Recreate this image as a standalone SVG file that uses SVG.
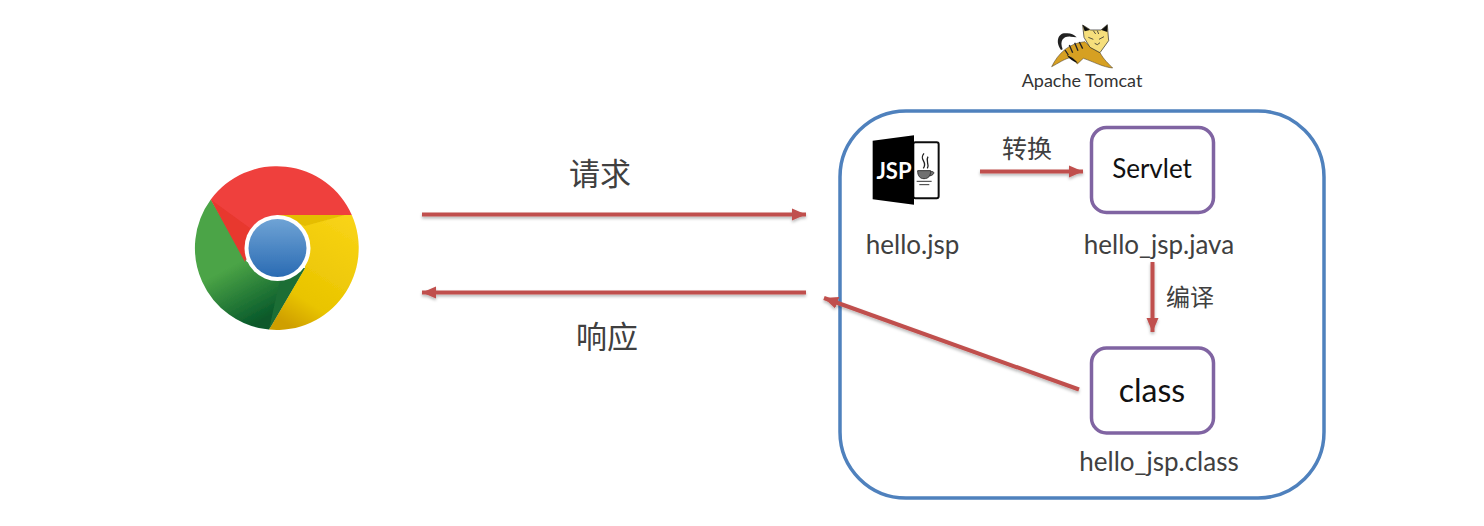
<svg xmlns="http://www.w3.org/2000/svg" width="1484" height="526" viewBox="0 0 1484 526">
<style>
text{font-family:Lato,"Noto Sans CJK SC",sans-serif;text-anchor:middle}
.lab{fill:#404040;font-size:26px}
.cjk{font-family:"Noto Sans CJK SC",sans-serif;fill:#404040}
.box{fill:#fff;stroke:#8064a2;stroke-width:3.5}
.conn{fill:none;stroke:#c0504d;stroke-width:4;marker-end:url(#ah)}
</style>
<defs>
<marker id="ah" markerUnits="userSpaceOnUse" markerWidth="15" markerHeight="15" refX="14" refY="7.500" orient="auto"><path d="M0 1.500L14 7.500L0 13.500Z" fill="#c0504d"/></marker>
<filter id="sh" x="-5%" y="-50%" width="110%" height="200%"><feDropShadow dx="0" dy="2" stdDeviation="1.600" flood-color="#000" flood-opacity=".28"/></filter>
<filter id="soft"><feGaussianBlur stdDeviation=".4"/></filter>
<linearGradient id="g" x1="0" y1="0" x2=".45" y2="1"><stop offset=".55" stop-color="#4ba446"/><stop offset="1" stop-color="#07582a"/></linearGradient>
<linearGradient id="y" x1=".8" y1="0" x2=".3" y2="1"><stop offset="0" stop-color="#f8d315"/><stop offset=".75" stop-color="#e9c400"/><stop offset="1" stop-color="#cf9f05"/></linearGradient>
<linearGradient id="b" x1="0" y1="0" x2="0" y2="1"><stop offset="0" stop-color="#6fa3d5"/><stop offset="1" stop-color="#2a6bb3"/></linearGradient>
</defs>
<rect width="1484" height="526" fill="#fff"/>
<g id="tomcat-container"><rect x="840" y="111" width="484" height="387" rx="66" fill="#fff" stroke="#4f81bd" stroke-width="3.5"/></g>
<g id="chrome" filter="url(#soft)">
<path d="M210.800 199.500A82 82 0 0 1 351.800 215L277 215L245 262Z" fill="#ef413d"/>
<path d="M210.800 199.500A82 82 0 0 0 269 329.600L305 268L247 262Z" fill="url(#g)"/>
<path d="M351.800 215A82 82 0 0 1 269 329.600L305 268L300 225L277 215Z" fill="url(#y)"/>
<path d="M210.800 199.500L245 262L250 228Z" fill="#e8372f"/>
<path d="M277 215H345L305 226Z" fill="#e5bd05"/>
<path d="M269 329.600L305 268L280 280Z" fill="#1f6e36"/>
<circle cx="277.500" cy="248" r="33" fill="#fff"/>
<circle cx="277.500" cy="248" r="29" fill="url(#b)"/>
</g>
<g id="tomcat-logo">
<g transform="translate(1000 10) scale(.3333)" filter="url(#soft)">
<path d="M155 170C175 130 205 100 255 95L272 112L300 128C312 150 325 160 338 174C310 172 280 155 250 145L232 162L215 142C195 145 175 160 155 170Z" fill="#d6a021" stroke="#3a2a10" stroke-width="1.500"/>
<path d="M248 45L272 60H303L322 44L326 92L300 128L270 112L252 82Z" fill="#f6df7c" stroke="#222" stroke-width="2"/>
<path d="M248 45L270 60L254 64ZM322 44L304 60L322 66Z" fill="#111"/>
<path d="M265 82L280 88M297 88L312 80M284 100L292 104L300 98M280 62L287 72M292 62L296 72" fill="none" stroke="#333" stroke-width="2.500"/>
<path d="M208 105L218 128M224 98L234 122M238 96L248 116M195 120L205 135" fill="none" stroke="#222" stroke-width="4"/>
<path d="M200 135Q220 142 234 160Q212 152 200 135Z" fill="#111"/>
<path d="M183 120C165 95 175 70 195 70C210 68 220 72 230 82L212 80C190 78 178 92 188 118Z" fill="#222"/>
</g>
<text x="1082" y="87" style="font-size:18px;fill:#333">Apache Tomcat</text>
</g>
<g id="jsp-node">
<g transform="translate(850 120) scale(.3333)" filter="url(#soft)">
<rect x="190" y="67" width="76" height="168" rx="6" fill="#fff" stroke="#111" stroke-width="6"/>
<path d="M68 62L192 46V254L68 238Z" fill="#000"/>
<path d="M222 100C205 120 235 125 220 145M234 110C225 125 240 130 232 145" fill="none" stroke="#222" stroke-width="4"/>
<path d="M203 152H242C242 168 235 176 222 176C210 176 203 168 203 152ZM242 155C256 152 254 166 238 168M200 184H245M208 194H238" fill="#333" stroke="#333" stroke-width="3" fill-opacity=".7"/>
</g>
<text x="894" y="179" style="font-size:22px;font-weight:700;fill:#fff">JSP</text>
<text class="lab" x="912.500" y="254">hello.jsp</text>
</g>
<g id="servlet-node">
<rect class="box" x="1091.500" y="127.500" width="122" height="85" rx="15"/>
<text x="1152" y="178" style="font-size:26px;fill:#111">Servlet</text>
<text class="lab" x="1159" y="254">hello_jsp.java</text>
</g>
<g id="class-node">
<rect class="box" x="1091.500" y="348" width="122" height="85" rx="15"/>
<text x="1152" y="402" style="font-size:32px;fill:#111">class</text>
<text class="lab" x="1159" y="471">hello_jsp.class</text>
</g>
<g id="connectors" filter="url(#sh)">
<path class="conn" d="M422 214.500H806"/>
<path class="conn" d="M806 292.500H422"/>
<path class="conn" d="M980 171.500H1083"/>
<path class="conn" d="M1152.500 262V332"/>
<path class="conn" d="M1079 389.500L824 298"/>
</g>
<g id="connector-labels">
<text class="cjk" x="600" y="185" style="font-size:31px">请求</text>
<text class="cjk" x="607" y="348" style="font-size:31px">响应</text>
<text class="cjk" x="1027" y="158" style="font-size:25px">转换</text>
<text class="cjk" x="1190" y="306" style="font-size:24px">编译</text>
</g>
</svg>
